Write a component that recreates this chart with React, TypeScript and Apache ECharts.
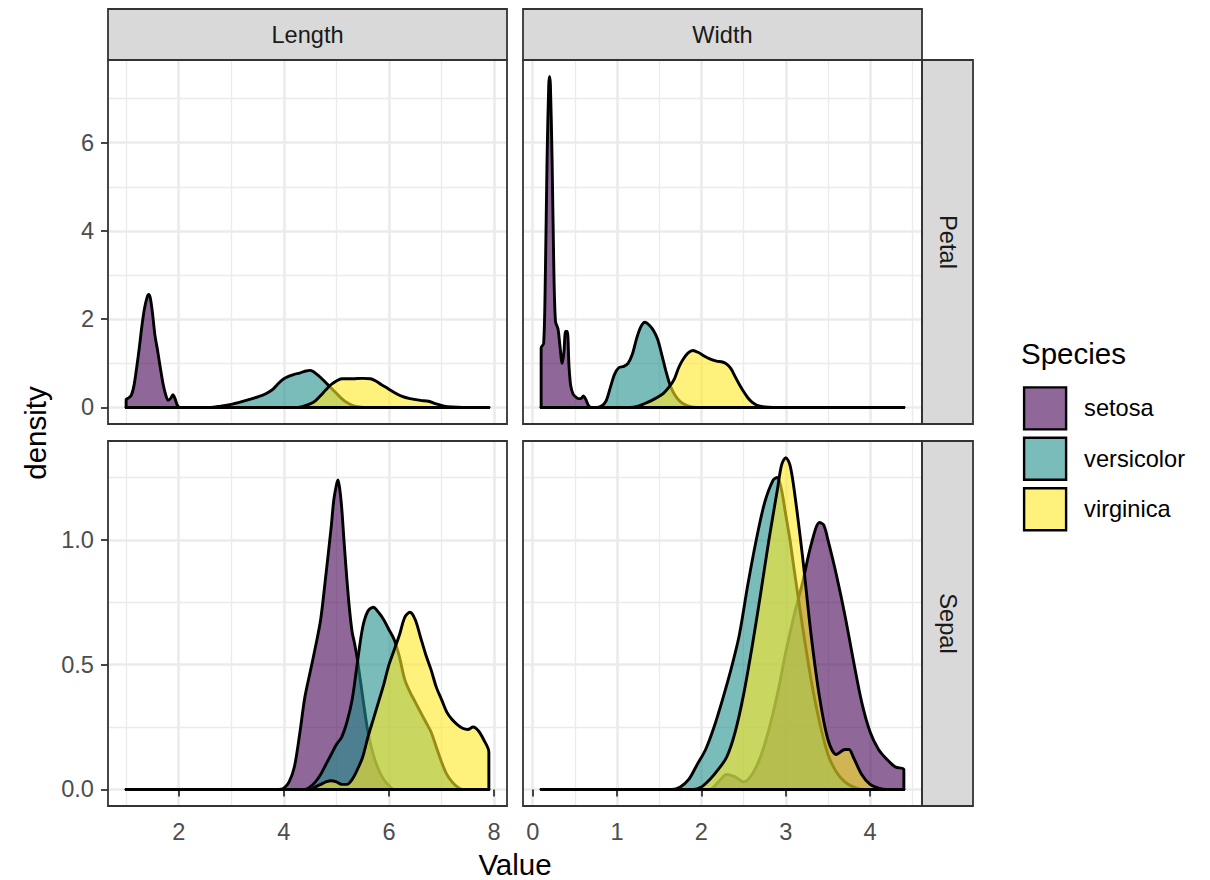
import React, { useEffect, useRef } from 'react';
import * as echarts from 'echarts';

// ---------------- data ----------------
const species = ['setosa', 'versicolor', 'virginica'];
const fills = ['rgba(68,1,84,0.6)', 'rgba(33,144,140,0.6)', 'rgba(253,231,37,0.6)'];
const columns = ['Length', 'Width'];
const rows = ['Petal', 'Sepal'];
const lengthRange = [1.0, 7.9];
const widthRange = [0.1, 4.4];
const lengthTicks = [2, 4, 6, 8];
const widthTicks = [0, 1, 2, 3, 4];
const petalTicks = [0, 2, 4, 6];
const sepalTicks = [0, 0.5, 1.0];

// density curves [value, density]
const petalLengthSetosa = [[1.0,0.18],[1.05,0.22],[1.1,0.28],[1.15,0.5],[1.2,0.9],[1.25,1.35],[1.3,1.85],[1.35,2.25],[1.4,2.5],[1.43,2.56],[1.46,2.48],[1.5,2.15],[1.55,1.62],[1.6,1.28],[1.65,0.9],[1.7,0.55],[1.75,0.3],[1.8,0.16],[1.85,0.21],[1.89,0.29],[1.93,0.2],[1.97,0.06],[2.02,0],[7.9,0]];
const petalLengthVersicolor = [[1.0,0],[2.6,0],[2.8,0.03],[3.0,0.07],[3.2,0.13],[3.4,0.2],[3.6,0.28],[3.7,0.34],[3.8,0.42],[3.9,0.55],[4.0,0.65],[4.1,0.71],[4.2,0.75],[4.3,0.78],[4.4,0.82],[4.5,0.84],[4.55,0.82],[4.6,0.78],[4.7,0.68],[4.8,0.56],[4.9,0.44],[5.0,0.32],[5.1,0.2],[5.2,0.11],[5.3,0.05],[5.4,0.02],[5.6,0],[7.9,0]];
const petalLengthVirginica = [[1.0,0],[4.2,0],[4.35,0.02],[4.5,0.08],[4.6,0.15],[4.7,0.27],[4.8,0.4],[4.9,0.52],[5.0,0.6],[5.1,0.65],[5.3,0.65],[5.5,0.66],[5.65,0.65],[5.75,0.6],[5.85,0.52],[5.95,0.45],[6.1,0.34],[6.25,0.25],[6.4,0.2],[6.6,0.16],[6.75,0.14],[6.9,0.08],[7.05,0.03],[7.2,0.01],[7.4,0],[7.9,0]];

const petalWidthSetosa = [[0.1,1.35],[0.13,1.45],[0.15,3.0],[0.17,5.6],[0.19,7.3],[0.2,7.5],[0.21,7.3],[0.23,5.6],[0.25,3.2],[0.27,1.95],[0.3,1.78],[0.32,1.45],[0.35,1.0],[0.37,1.25],[0.39,1.72],[0.41,1.72],[0.43,0.95],[0.45,0.5],[0.48,0.3],[0.51,0.24],[0.54,0.2],[0.57,0.2],[0.6,0.26],[0.63,0.18],[0.66,0.05],[0.7,0],[4.4,0]];
const petalWidthVersicolor = [[0.1,0],[0.75,0],[0.82,0.04],[0.87,0.15],[0.92,0.45],[0.97,0.75],[1.02,0.9],[1.08,0.93],[1.13,1.0],[1.18,1.2],[1.23,1.55],[1.28,1.82],[1.33,1.93],[1.38,1.87],[1.43,1.75],[1.48,1.55],[1.53,1.2],[1.58,0.82],[1.63,0.5],[1.68,0.3],[1.73,0.17],[1.78,0.09],[1.85,0.03],[1.95,0],[4.4,0]];
const petalWidthVirginica = [[0.1,0],[1.15,0],[1.25,0.03],[1.33,0.09],[1.4,0.15],[1.47,0.22],[1.55,0.32],[1.62,0.47],[1.68,0.65],[1.73,0.9],[1.78,1.08],[1.84,1.23],[1.9,1.29],[1.96,1.25],[2.02,1.18],[2.1,1.1],[2.18,1.05],[2.25,1.03],[2.3,0.98],[2.35,0.88],[2.4,0.7],[2.45,0.52],[2.5,0.36],[2.55,0.22],[2.6,0.12],[2.66,0.05],[2.75,0.01],[2.85,0],[4.4,0]];

const sepalLengthSetosa = [[1.0,0],[3.9,0],[4.0,0.005],[4.1,0.03],[4.2,0.09],[4.3,0.22],[4.4,0.37],[4.5,0.47],[4.6,0.57],[4.7,0.68],[4.8,0.86],[4.9,1.05],[4.95,1.16],[5.0,1.22],[5.03,1.24],[5.06,1.21],[5.1,1.13],[5.15,0.98],[5.2,0.84],[5.25,0.72],[5.3,0.63],[5.35,0.58],[5.4,0.52],[5.5,0.37],[5.6,0.23],[5.7,0.14],[5.8,0.08],[5.9,0.04],[6.0,0.015],[6.1,0],[7.9,0]];
const sepalLengthVersicolor = [[1.0,0],[4.4,0],[4.5,0.01],[4.6,0.03],[4.7,0.06],[4.8,0.1],[4.9,0.14],[5.0,0.18],[5.1,0.21],[5.2,0.27],[5.3,0.36],[5.4,0.51],[5.5,0.65],[5.6,0.715],[5.7,0.73],[5.8,0.71],[5.9,0.68],[6.0,0.64],[6.1,0.6],[6.2,0.53],[6.3,0.44],[6.4,0.39],[6.5,0.35],[6.6,0.31],[6.7,0.27],[6.8,0.23],[6.9,0.17],[7.0,0.11],[7.1,0.06],[7.2,0.03],[7.3,0.01],[7.4,0],[7.9,0]];
const sepalLengthVirginica = [[1.0,0],[4.5,0],[4.6,0.01],[4.7,0.02],[4.8,0.03],[4.9,0.035],[5.0,0.03],[5.1,0.02],[5.2,0.02],[5.3,0.04],[5.4,0.08],[5.5,0.13],[5.6,0.21],[5.7,0.28],[5.8,0.35],[5.9,0.42],[6.0,0.5],[6.1,0.56],[6.2,0.62],[6.3,0.69],[6.4,0.71],[6.5,0.68],[6.6,0.61],[6.7,0.54],[6.8,0.48],[6.9,0.41],[7.0,0.36],[7.1,0.31],[7.2,0.28],[7.3,0.26],[7.4,0.245],[7.5,0.24],[7.6,0.25],[7.7,0.235],[7.8,0.2],[7.9,0.15]];

const sepalWidthSetosa = [[0.1,0],[2.1,0],[2.2,0.03],[2.3,0.06],[2.4,0.05],[2.5,0.03],[2.6,0.06],[2.7,0.13],[2.8,0.24],[2.9,0.38],[3.0,0.55],[3.1,0.7],[3.2,0.83],[3.3,0.98],[3.4,1.07],[3.45,1.06],[3.5,1.0],[3.6,0.86],[3.7,0.7],[3.8,0.52],[3.9,0.35],[4.0,0.23],[4.1,0.16],[4.2,0.12],[4.3,0.09],[4.4,0.08]];
const sepalWidthVersicolor = [[0.1,0],[1.65,0],[1.75,0.01],[1.85,0.04],[1.95,0.1],[2.05,0.16],[2.15,0.25],[2.25,0.36],[2.35,0.48],[2.45,0.62],[2.55,0.82],[2.65,1.0],[2.75,1.15],[2.85,1.24],[2.9,1.25],[2.95,1.2],[3.0,1.1],[3.05,1.0],[3.1,0.88],[3.2,0.65],[3.3,0.44],[3.4,0.27],[3.5,0.14],[3.6,0.07],[3.7,0.03],[3.8,0.01],[3.9,0],[4.4,0]];
const sepalWidthVirginica = [[0.1,0],[1.9,0],[2.0,0.01],[2.1,0.04],[2.2,0.08],[2.3,0.13],[2.4,0.23],[2.5,0.38],[2.6,0.57],[2.7,0.78],[2.8,1.0],[2.9,1.2],[2.95,1.3],[3.0,1.33],[3.05,1.3],[3.1,1.2],[3.2,0.93],[3.3,0.62],[3.4,0.37],[3.5,0.2],[3.6,0.14],[3.7,0.16],[3.75,0.16],[3.8,0.13],[3.9,0.06],[4.0,0.02],[4.1,0.005],[4.2,0],[4.4,0]];

// ---------------- layout / style ----------------
const fontFamily = "'Liberation Sans', Arial, Helvetica, sans-serif";
const colLeft = [108, 523];
const panelWidth = 399;
const rowTop = [60, 441];
const rowHeight = [364, 365];
const stripTop = 9;
const stripRight = 51;

const panels = [
  { row: 0, col: 0, curves: [petalLengthSetosa, petalLengthVersicolor, petalLengthVirginica] },
  { row: 0, col: 1, curves: [petalWidthSetosa, petalWidthVersicolor, petalWidthVirginica] },
  { row: 1, col: 0, curves: [sepalLengthSetosa, sepalLengthVersicolor, sepalLengthVirginica] },
  { row: 1, col: 1, curves: [sepalWidthSetosa, sepalWidthVersicolor, sepalWidthVirginica] },
];

function buildOption() {
  const colRange = [lengthRange, widthRange];
  const colTicks = [lengthTicks, widthTicks];
  const rowTicks = [petalTicks, sepalTicks];
  const rowMax = [0, 1].map((r) =>
    Math.max(...panels.filter((p) => p.row === r).flatMap((p) => p.curves.flatMap((c) => c.map((d) => d[1]))))
  );

  const grid = panels.map((p) => ({
    left: colLeft[p.col], top: rowTop[p.row], width: panelWidth, height: rowHeight[p.row],
  }));

  const gridLines = {
    splitLine: { show: true, lineStyle: { color: '#ebebeb', width: 2.6 } },
    minorTick: { show: false, splitNumber: 2 },
    minorSplitLine: { show: true, lineStyle: { color: '#ebebeb', width: 1.3 } },
  };
  const labelStyle = { fontSize: 23.6, color: '#4d4d4d', fontFamily };

  const xAxis = panels.map((p, i) => {
    const r = colRange[p.col];
    const pad = (r[1] - r[0]) * 0.05;
    const ticks = colTicks[p.col];
    const step = ticks[1] - ticks[0];
    const show = p.row === 1;
    return {
      type: 'value', gridIndex: i, min: r[0] - pad, max: r[1] + pad,
      minInterval: step, maxInterval: step,
      axisLine: { show: false },
      axisTick: { show, customValues: ticks, length: 7, lineStyle: { color: '#333333', width: 1.8 } },
      axisLabel: { show, customValues: ticks, margin: 14, ...labelStyle, formatter: (v: number) => String(v) },
      ...gridLines,
    };
  });

  const yAxis = panels.map((p, i) => {
    const m = rowMax[p.row];
    const pad = m * 0.05;
    const ticks = rowTicks[p.row];
    const step = ticks[1] - ticks[0];
    const show = p.col === 0;
    return {
      type: 'value', gridIndex: i, min: -pad, max: m + pad,
      minInterval: step, maxInterval: step,
      axisLine: { show: false },
      axisTick: { show, customValues: ticks, length: 7, lineStyle: { color: '#333333', width: 1.8 } },
      axisLabel: {
        show, customValues: ticks, margin: 14, ...labelStyle,
        formatter: (v: number) => (p.row === 1 ? v.toFixed(1) : String(v)),
      },
      ...gridLines,
    };
  });

  const series = panels.flatMap((p, i) =>
    p.curves.map((c, k) => {
      const r = colRange[p.col];
      const data = [[r[0], 0], ...c, [r[1], 0], [r[0], 0]];
      return {
        type: 'line', name: species[k], xAxisIndex: i, yAxisIndex: i,
        data, symbol: 'none', showSymbol: false, smooth: 0.3, silent: true, z: 2 + k,
        lineStyle: { color: '#000', width: 2.9, join: 'round', cap: 'round' },
        itemStyle: { color: fills[k] },
        areaStyle: { color: fills[k], opacity: 1 },
      };
    })
  );

  const graphic: any[] = [];
  // panel borders
  panels.forEach((p) => {
    graphic.push({
      type: 'rect', z: 100, silent: true,
      shape: { x: colLeft[p.col], y: rowTop[p.row], width: panelWidth, height: rowHeight[p.row] },
      style: { fill: 'none', stroke: '#333333', lineWidth: 1.8 },
    });
  });
  // top strips
  columns.forEach((name, c) => {
    graphic.push({
      type: 'rect', z: 90, silent: true,
      shape: { x: colLeft[c], y: stripTop, width: panelWidth, height: rowTop[0] - stripTop },
      style: { fill: '#d9d9d9', stroke: '#333333', lineWidth: 1.8 },
    });
    graphic.push({
      type: 'text', z: 91, silent: true,
      x: colLeft[c] + panelWidth / 2, y: (stripTop + rowTop[0]) / 2,
      style: { text: name, fill: '#1a1a1a', fontSize: 23.6, fontFamily, align: 'center', verticalAlign: 'middle' },
    });
  });
  // right strips
  const rx = colLeft[1] + panelWidth;
  rows.forEach((name, r) => {
    graphic.push({
      type: 'rect', z: 90, silent: true,
      shape: { x: rx, y: rowTop[r], width: stripRight, height: rowHeight[r] },
      style: { fill: '#d9d9d9', stroke: '#333333', lineWidth: 1.8 },
    });
    graphic.push({
      type: 'text', z: 91, silent: true,
      x: rx + stripRight / 2, y: rowTop[r] + rowHeight[r] / 2, rotation: -Math.PI / 2,
      style: { text: name, fill: '#1a1a1a', fontSize: 23.6, fontFamily, align: 'center', verticalAlign: 'middle' },
    });
  });
  // axis titles
  graphic.push({
    type: 'text', silent: true, x: (colLeft[0] + colLeft[1] + panelWidth) / 2, y: 864,
    style: { text: 'Value', fill: '#000', fontSize: 29.5, fontFamily, align: 'center', verticalAlign: 'middle' },
  });
  graphic.push({
    type: 'text', silent: true, x: 35, y: (rowTop[0] + rowTop[1] + rowHeight[1]) / 2, rotation: Math.PI / 2,
    style: { text: 'density', fill: '#000', fontSize: 29.5, fontFamily, align: 'center', verticalAlign: 'middle' },
  });
  // legend title
  graphic.push({
    type: 'text', silent: true, x: 1021, y: 353,
    style: { text: 'Species', fill: '#000', fontSize: 29.5, fontFamily, align: 'left', verticalAlign: 'middle' },
  });

  return {
    animation: false,
    backgroundColor: '#ffffff',
    grid,
    xAxis,
    yAxis,
    series,
    graphic,
    legend: {
      orient: 'vertical', left: 1022.9, top: 386.2, padding: 0,
      itemWidth: 42, itemHeight: 42, itemGap: 6, icon: 'rect', selectedMode: false,
      textStyle: { fontSize: 23.6, color: '#000', fontFamily, padding: [0, 0, 0, 13] },
      data: species.map((s, k) => ({
        name: s, icon: 'rect',
        itemStyle: { color: fills[k], borderColor: '#000', borderWidth: 2.4 },
      })),
    },
  };
}

export default function App() {
  const ref = useRef<HTMLDivElement>(null);
  useEffect(() => {
    if (!ref.current) return;
    const chart = echarts.init(ref.current, null, { renderer: 'svg' });
    chart.setOption(buildOption() as any);
    return () => chart.dispose();
  }, []);
  return (
    <div
      ref={ref}
      style={{ position: 'absolute', left: 0, top: 0, width: 1210, height: 880, background: '#fff' }}
    />
  );
}
